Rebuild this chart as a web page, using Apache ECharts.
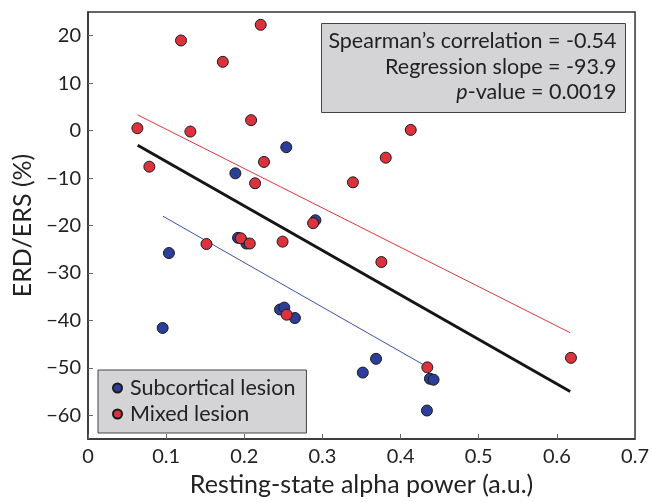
<!DOCTYPE html>
<html><head><meta charset="utf-8">
<script src="https://cdn.jsdelivr.net/npm/echarts@6/dist/echarts.min.js"></script>
<style>html,body{margin:0;padding:0;background:#fff}#c{width:652px;height:502px}</style>
</head><body><div id="c"></div>
<script>
// Subcortical lesion (blue)
const subX = [0.2537, 0.1886, 0.1036, 0.192, 0.2027, 0.0955, 0.2457, 0.2512, 0.2648, 0.291, 0.3686, 0.3516, 0.4375, 0.4422, 0.4337];
const subY = [-3.5, -9.0, -25.8, -22.6, -23.8, -41.6, -37.7, -37.3, -39.5, -18.9, -48.1, -51.0, -52.3, -52.5, -59.0];
// Mixed lesion (red)
const mixX = [0.221, 0.119, 0.1725, 0.2087, 0.0632, 0.131, 0.0785, 0.2252, 0.2138, 0.1516, 0.1955, 0.207, 0.249, 0.2542, 0.381, 0.339, 0.3754, 0.288, 0.413, 0.4342, 0.618];
const mixY = [22.3, 19.0, 14.5, 2.2, 0.5, -0.2, -7.6, -6.6, -11.1, -23.9, -22.7, -23.8, -23.4, -38.8, -5.7, -10.9, -27.7, -19.5, 0.15, -49.9, -47.9];
// Regression lines (endpoints)
const fitAllX = [0.0636, 0.617];
const fitAllY = [-3.1, -55.0];
const fitSubX = [0.096, 0.433];
const fitSubY = [-18.05, -49.7];
const fitMixX = [0.0636, 0.617];
const fitMixY = [3.32, -42.6];
// Ticks
const yTicks = [-60, -50, -40, -30, -20, -10, 0, 10, 20];
const statLines = ["Spearman\u2019s correlation = -0.54", "Regression slope = -93.9", "p-value = 0.0019"];

const FONT = 'Lato';
const zip = (a, b) => a.map((v, i) => [v, b[i]]);
const chart = echarts.init(document.getElementById('c'));
const axisCol = '#333';
chart.setOption({
  animation: false,
  grid: {left: 88, right: 16, top: 12, bottom: 58, show: true, borderColor: axisCol, borderWidth: 1.5},
  xAxis: {
    type: 'value', min: 0, max: 0.7, interval: 0.1,
    axisLine: {show: true, onZero: false, lineStyle: {color: axisCol, width: 1.5}},
    axisTick: {show: true, inside: true, length: 5, lineStyle: {color: '#666'}},
    axisLabel: {color: '#222', fontSize: 20, fontFamily: FONT, margin: 8},
    splitLine: {show: false},
    name: 'Resting-state alpha power (a.u.)', nameLocation: 'middle', nameGap: 33,
    nameTextStyle: {fontSize: 25, color: '#222', fontFamily: FONT}
  },
  yAxis: {
    type: 'value', min: -65, max: 25,
    axisLine: {show: true, onZero: false, lineStyle: {color: axisCol, width: 1.5}},
    axisTick: {show: true, inside: true, length: 5, customValues: yTicks, lineStyle: {color: '#666'}},
    axisLabel: {customValues: yTicks, color: '#222', fontSize: 20, fontFamily: FONT, margin: 7,
      formatter: v => String(v).replace('-', '\u2212')},
    splitLine: {show: false},
    name: 'ERD/ERS (%)', nameLocation: 'middle', nameGap: 52,
    nameTextStyle: {fontSize: 25, color: '#222', fontFamily: FONT}
  },
  legend: {
    orient: 'vertical', left: 98, top: 370,
    padding: [7, 11, 8, 14],
    backgroundColor: '#d4d4d6', borderColor: '#444', borderWidth: 1, borderRadius: 0,
    itemWidth: 9, itemHeight: 9, itemGap: 4,
    textStyle: {fontSize: 21.5, fontFamily: FONT, color: '#222', lineHeight: 21, padding: [0, 0, 0, 3]},
    data: [{name: 'Subcortical lesion', icon: 'circle'}, {name: 'Mixed lesion', icon: 'circle'}]
  },
  graphic: [{
    type: 'group', left: 321, top: 23,
    children: [
      {type: 'rect', shape: {x: 0, y: 0, width: 304, height: 89}, style: {fill: '#d4d4d6', stroke: '#444', lineWidth: 1}},
      {type: 'text', x: 295, y: 18, style: {text: statLines[0], align: 'right', verticalAlign: 'middle', font: '21.5px ' + FONT, fill: '#222'}},
      {type: 'text', x: 295, y: 44, style: {text: statLines[1], align: 'right', verticalAlign: 'middle', font: '21.5px ' + FONT, fill: '#222'}},
      {type: 'text', x: 295, y: 69, style: {text: '{i|p}' + statLines[2].slice(1), align: 'right', verticalAlign: 'middle', font: '21.5px ' + FONT, fill: '#222',
        rich: {i: {fontStyle: 'italic', fontSize: 21.5, fontFamily: FONT, fill: '#222'}}}}
    ]
  }],
  series: [
    {type: 'line', data: zip(fitMixX, fitMixY), symbol: 'none', lineStyle: {color: '#e5333d', width: 1}, z: 2, silent: true},
    {type: 'line', data: zip(fitSubX, fitSubY), symbol: 'none', lineStyle: {color: '#3a4fa8', width: 1}, z: 2, silent: true},
    {type: 'line', data: zip(fitAllX, fitAllY), symbol: 'none', lineStyle: {color: '#151515', width: 3}, z: 2, silent: true},
    {name: 'Subcortical lesion', type: 'scatter', data: zip(subX, subY), symbolSize: 11,
      itemStyle: {color: '#2c3e98', borderColor: '#1a1a1a', borderWidth: 1, opacity: 1}, z: 3},
    {name: 'Mixed lesion', type: 'scatter', data: zip(mixX, mixY), symbolSize: 11,
      itemStyle: {color: '#dc323e', borderColor: '#1a1a1a', borderWidth: 1, opacity: 1}, z: 3}
  ]
});
</script></body></html>
